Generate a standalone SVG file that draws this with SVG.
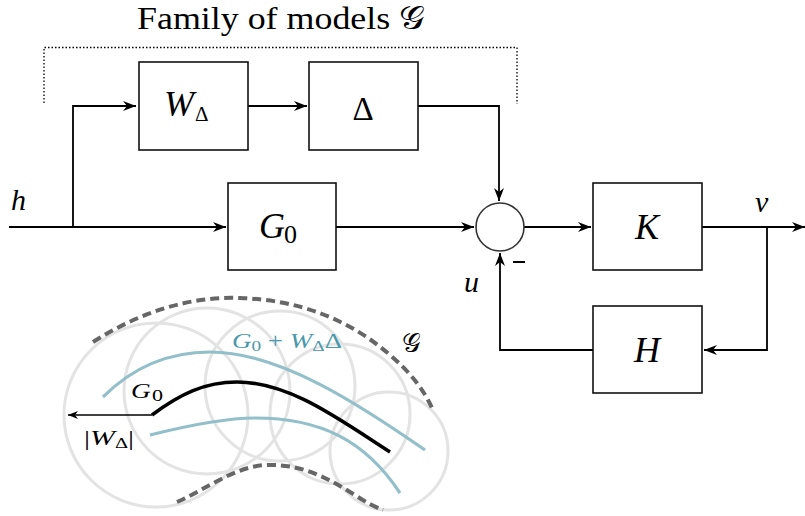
<svg xmlns="http://www.w3.org/2000/svg" width="805" height="516" viewBox="0 0 805 516">
<style>
.box{fill:#fff;stroke:#111;stroke-width:1.6}
.ln{fill:none;stroke:#000;stroke-width:1.8}
.t{font-family:"Liberation Serif","DejaVu Serif",serif;fill:#000}
.m{font-family:"Liberation Serif","DejaVu Serif",serif;font-style:italic;fill:#000}
.circ{fill:none;stroke:#e3e3e3;stroke-width:3}
.dash{fill:none;stroke:#666;stroke-width:4;stroke-dasharray:9 5}
.teal{fill:none;stroke:#93bfcb;stroke-width:3.2}
</style>
<defs>
<marker id="ah" viewBox="-13 -6 14 12" refX="0" refY="0" markerWidth="14" markerHeight="12" markerUnits="userSpaceOnUse" orient="auto">
<path d="M0,0 L-13,-5 L-9,0 L-13,5 z" fill="#000"/>
</marker>
<marker id="ah2" viewBox="-11 -5 12 10" refX="0" refY="0" markerWidth="12" markerHeight="10" markerUnits="userSpaceOnUse" orient="auto">
<path d="M0,0 L-10,-4 L-7,0 L-10,4 z" fill="#000"/>
</marker>
</defs>
<rect width="805" height="516" fill="#fff"/>

<g id="title">
<text class="t" x="137" y="29" font-size="32" textLength="288" lengthAdjust="spacingAndGlyphs">Family of models 𝒢</text>
<path d="M44,103 V47.5 H517 V104" fill="none" stroke="#000" stroke-width="1.3" stroke-dasharray="1.5 2"/>
</g>

<g id="connectors">
<path class="ln" d="M9,227 H226" marker-end="url(#ah)"/>
<path class="ln" d="M73,227 V106 H136" marker-end="url(#ah)"/>
<path class="ln" d="M248,106 H307" marker-end="url(#ah)"/>
<path class="ln" d="M418,106 H499 V201" marker-end="url(#ah)"/>
<path class="ln" d="M336,227 H474" marker-end="url(#ah)"/>
<path class="ln" d="M524,227 H591" marker-end="url(#ah)"/>
<path class="ln" d="M702,227 H805" marker-end="url(#ah)"/>
<path class="ln" d="M767,227 V350 H704" marker-end="url(#ah)"/>
<path class="ln" d="M593,350 H500 V253" marker-end="url(#ah)"/>
</g>

<g id="node-W">
<rect class="box" x="139" y="62" width="109" height="88"/>
<text class="m" x="164" y="116" font-size="36">W<tspan font-style="normal" font-size="21" dy="5" dx="1">Δ</tspan></text>
</g>
<g id="node-Delta">
<rect class="box" x="309" y="62" width="109" height="88"/>
<text class="t" x="363" y="120" font-size="33" text-anchor="middle">Δ</text>
</g>
<g id="node-G0">
<rect class="box" x="228" y="183" width="108" height="87"/>
<text class="m" x="259" y="238" font-size="36">G<tspan font-style="normal" font-size="26" dy="5" dx="-1">0</tspan></text>
</g>
<g id="node-sum">
<circle cx="500" cy="227" r="24" fill="#fff" stroke="#333" stroke-width="1.6"/>
<path d="M513,262 H525" stroke="#000" stroke-width="2"/>
</g>
<g id="node-K">
<rect class="box" x="593" y="183" width="109" height="87"/>
<text class="m" x="647" y="239" font-size="36" text-anchor="middle">K</text>
</g>
<g id="node-H">
<rect class="box" x="593" y="306" width="109" height="87"/>
<text class="m" x="647" y="362" font-size="36" text-anchor="middle">H</text>
</g>
<g id="labels">
<text class="m" x="11" y="210" font-size="30">h</text>
<text class="m" x="755" y="212" font-size="30">v</text>
<text class="m" x="464" y="292" font-size="30">u</text>
</g>

<g id="illustration">
<circle class="circ" cx="156" cy="415" r="92"/>
<circle class="circ" cx="207" cy="391" r="83"/>
<circle class="circ" cx="280" cy="386" r="75"/>
<circle class="circ" cx="340" cy="414" r="70"/>
<circle class="circ" cx="389" cy="451" r="59"/>
<path class="dash" d="M93,342 C140,312 190,296 240,298 C300,300 350,320 390,355 C410,372 424,390 432,408"/>
<path class="dash" d="M177,502 C205,490 235,466 267,465 C305,464 330,480 355,495 C365,502 375,507 383,510"/>
<path class="teal" d="M103,397 C130,370 165,352 210,352 C280,352 360,405 425,450"/>
<path class="teal" d="M150,435 C190,425 225,418 255,418 C320,418 365,440 400,493"/>
<path fill="none" stroke="#000" stroke-width="3.5" d="M152,415 C180,394 205,382 237,382 C290,382 340,420 390,452"/>
<path fill="none" stroke="#000" stroke-width="1.3" d="M152,415 H68" marker-end="url(#ah2)"/>
<text class="m" x="131" y="398" font-size="21" textLength="32" lengthAdjust="spacingAndGlyphs">G<tspan font-style="normal" font-size="17" dy="3" dx="1">0</tspan></text>
<text class="m" x="84" y="445" font-size="22" textLength="50" lengthAdjust="spacingAndGlyphs"><tspan font-style="normal">|</tspan>W<tspan font-style="normal" font-size="15" dy="3">Δ</tspan><tspan font-style="normal" dy="-3">|</tspan></text>
<text class="m" x="232" y="348" font-size="21" style="fill:#4a98ab" textLength="110" lengthAdjust="spacingAndGlyphs">G<tspan font-style="normal" font-size="15" dy="3">0</tspan><tspan font-style="normal" dy="-3"> + </tspan>W<tspan font-style="normal" font-size="15" dy="3">Δ</tspan><tspan font-style="normal" dy="-3">Δ</tspan></text>
<text class="t" x="402" y="352" font-size="26">𝒢</text>
</g>
</svg>
